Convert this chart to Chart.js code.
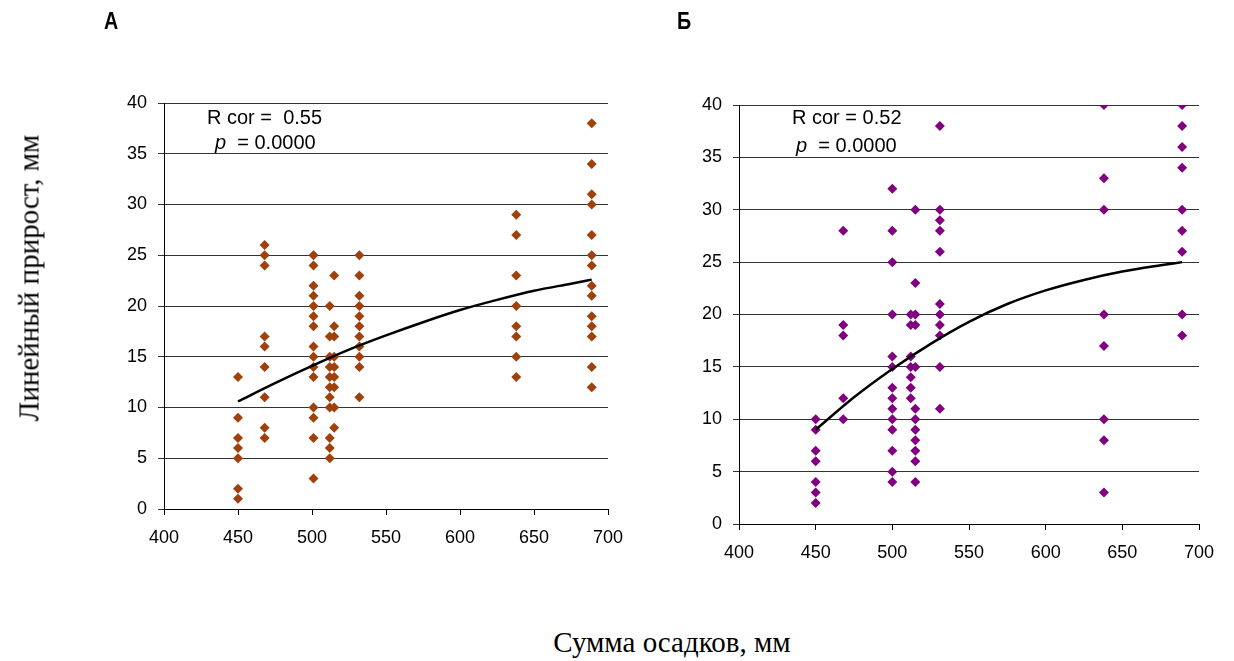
<!DOCTYPE html>
<html>
<head>
<meta charset="utf-8">
<script src="https://cdn.jsdelivr.net/npm/chart.js@4/dist/chart.umd.min.js"></script>
<style>
  body { margin:0; background:#fff; }
  #wrap { position:relative; width:1234px; height:661px; overflow:hidden; font-family:"Liberation Sans", Arial, sans-serif; }
  canvas { position:absolute; top:0; }
  #chartA { left:0; }
  #chartB { left:640px; }
  .lbl { position:absolute; font-weight:bold; font-size:24px; line-height:24px; font-family:"Liberation Sans Narrow", "Liberation Sans", Arial, sans-serif; transform:scaleX(0.82); transform-origin:left top; }
  .note { position:absolute; font-size:20px; line-height:20px; white-space:pre; color:#000; }
  .note i { font-style:italic; }
  .title { position:absolute; font-family:"Liberation Serif", "Times New Roman", serif; font-size:29px; white-space:nowrap; transform:translate(-50%,-50%); }
</style>
</head>
<body>
<div id="wrap">
  <canvas id="chartA" width="640" height="570"></canvas>
  <canvas id="chartB" width="594" height="570"></canvas>

  <div class="lbl" style="left:104px;top:9px">А</div>
  <div class="lbl" style="left:677px;top:9px">Б</div>

  <div class="note" style="left:207px;top:107px">R cor =  0.55</div>
  <div class="note" style="left:215px;top:132px"><i>p</i>  = 0.0000</div>
  <div class="note" style="left:792px;top:107px">R cor = 0.52</div>
  <div class="note" style="left:796px;top:135px"><i>p</i>  = 0.0000</div>

  <div class="title" style="left:29px;top:278px;transform:translate(-50%,-50%) rotate(-90deg)">Линейный прирост, мм</div>
  <div class="title" style="left:672px;top:642px">Сумма осадков, мм</div>
</div>

<script>
// panel А: precipitation columns and growth values
const precipA = [450, 468, 501, 512, 515, 532, 638, 689];
const growthA = [
  [13, 9, 7, 6, 5, 2, 1],
  [26, 25, 24, 17, 16, 14, 11, 8, 7],
  [25, 24, 22, 21, 20, 19, 18, 16, 15, 14, 13, 10, 9, 7, 3],
  [20, 17, 15, 14, 13, 12, 11, 10, 7, 6, 5],
  [23, 18, 17, 15, 14, 13, 12, 10, 8],
  [25, 23, 21, 20, 19, 18, 17, 16, 15, 14, 11],
  [29, 27, 23, 20, 18, 17, 15, 13],
  [38, 34, 31, 30, 27, 25, 24, 22, 21, 19, 18, 17, 14, 12]
];

// panel Б
const precipB = [450, 468, 500, 512, 515, 531, 638, 689];
const growthB = [
  [10, 9, 7, 6, 4, 3, 2],
  [28, 19, 18, 12, 10],
  [32, 28, 25, 20, 16, 15, 13, 12, 11, 10, 9, 7, 5, 4],
  [20, 19, 16, 15, 14, 13, 12],
  [30, 23, 20, 19, 15, 11, 10, 9, 8, 7, 6, 4],
  [38, 30, 29, 28, 26, 21, 20, 19, 18, 15, 11],
  [40, 33, 30, 20, 17, 10, 8, 3],
  [40, 38, 36, 34, 30, 28, 26, 20, 18]
];

// trend curves
const trendX = [450, 475, 500, 525, 550, 575, 600, 625, 650, 675, 689];
const trendA = [10.6, 12.4, 14.1, 15.7, 17.1, 18.4, 19.6, 20.6, 21.5, 22.2, 22.6];
const trendB = [9.0, 12.1, 14.8, 17.2, 19.3, 21.0, 22.3, 23.3, 24.1, 24.7, 25.0];

const xTicks = [400, 450, 500, 550, 600, 650, 700];
const yTicks = [0, 5, 10, 15, 20, 25, 30, 35, 40];

function points(xs, ys) {
  const out = [];
  xs.forEach((x, i) => ys[i].forEach(y => out.push({ x, y })));
  return out;
}

function makeChart(id, xs, ys, trend, color, box) {
  const tickFont = { family:'"Liberation Sans", Arial, sans-serif', size:18 };
  return new Chart(document.getElementById(id).getContext('2d'), {
    type: 'scatter',
    data: {
      datasets: [
        {
          type:'line',
          data: trendX.map((x, i) => ({ x, y: trend[i] })),
          borderColor:'#000', borderWidth:2.5, pointRadius:0,
          cubicInterpolationMode:'monotone', fill:false
        },
        {
          data: points(xs, ys),
          pointStyle:'rectRot', pointRadius:5, pointHoverRadius:5,
          backgroundColor:color, borderColor:color, borderWidth:0
        }
      ]
    },
    options: {
      responsive:false, animation:false,
      layout: { padding: { left:0, top:box.top, right:box.right, bottom:0 } },
      plugins: { legend:{ display:false }, tooltip:{ enabled:false } },
      scales: {
        x: {
          type:'linear', min:400, max:700,
          afterBuildTicks: s => { s.ticks = xTicks.map(v => ({ value:v })); },
          afterFit: s => { s.height = box.xh; },
          ticks: { color:'#000', font:tickFont, padding:12, maxRotation:0 },
          grid: { drawOnChartArea:false, tickLength:6, color:'#000' },
          border: { color:'#000', width:1 }
        },
        y: {
          type:'linear', min:0, max:40,
          afterBuildTicks: s => { s.ticks = yTicks.map(v => ({ value:v })); },
          afterFit: s => { s.width = box.yw; },
          ticks: { color:'#000', font:tickFont, padding:11 },
          grid: { tickLength:6, color:'#333', lineWidth:1 },
          border: { color:'#000', width:1 }
        }
      }
    }
  });
}

makeChart('chartA', precipA, growthA, trendA, '#A0400A', { top:103, right:32, yw:164, xh:61 });
makeChart('chartB', precipB, growthB, trendB, '#800080', { top:105, right:35, yw:99, xh:46 });
</script>
</body>
</html>
